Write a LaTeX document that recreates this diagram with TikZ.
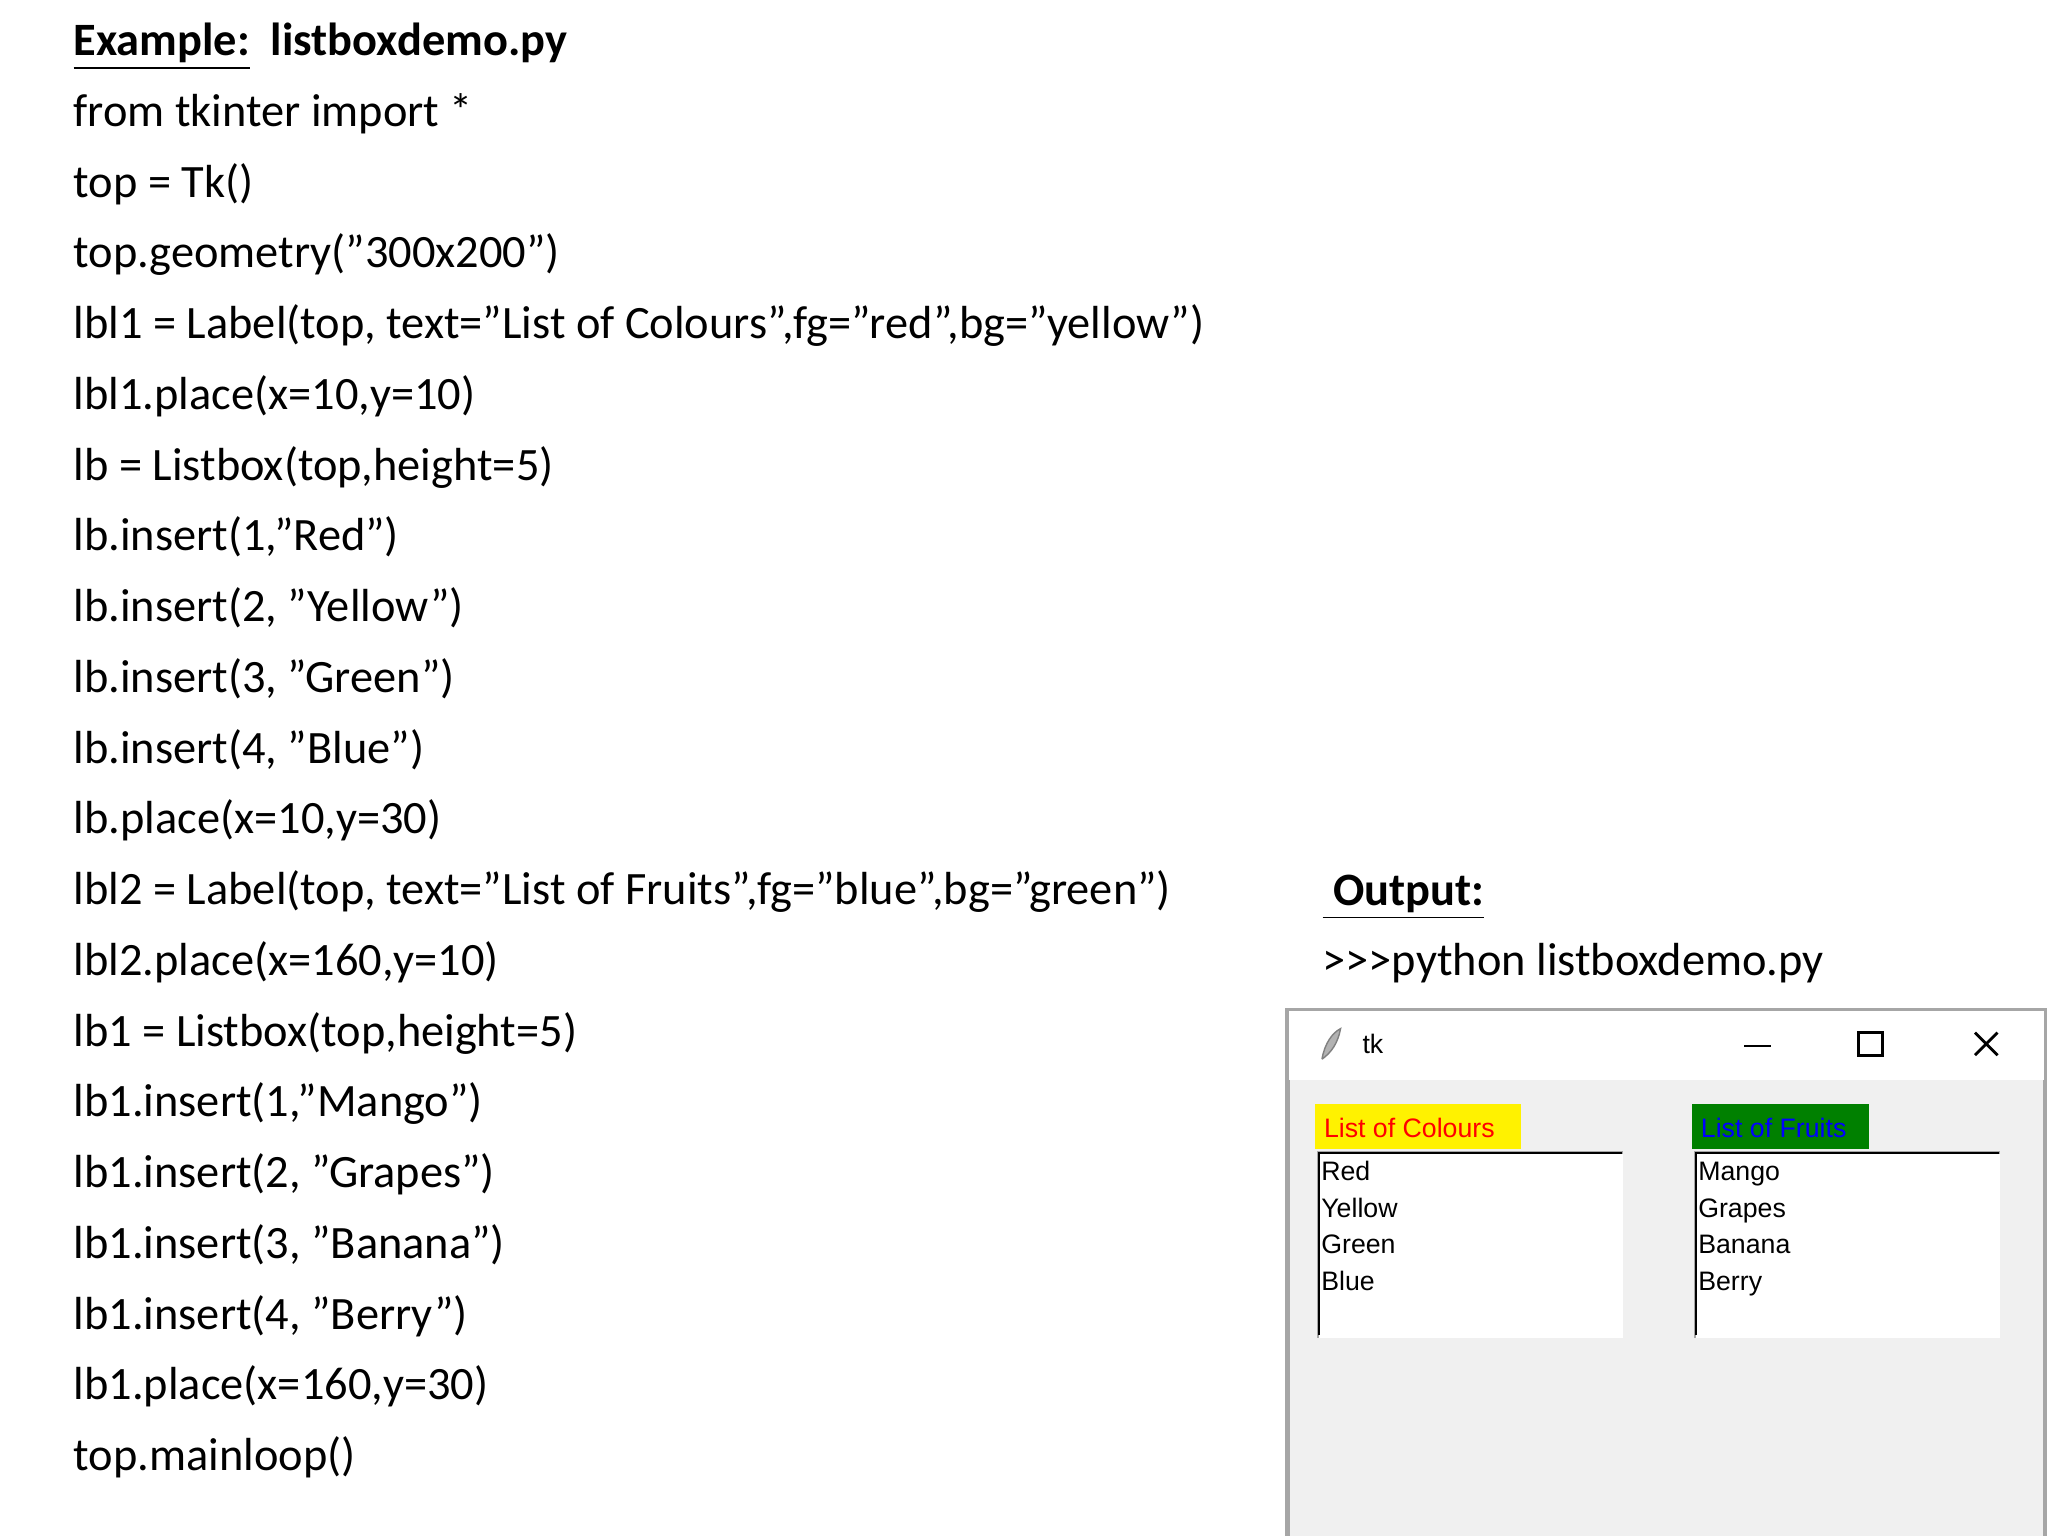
\documentclass[tikz,border=0pt]{standalone}
\usepackage{fontspec}
\setmainfont{Carlito}
\newfontfamily\tkf{Liberation Sans}
\begin{document}
\begin{tikzpicture}[x=0.01327cm,y=-0.01327cm,
  code/.style={anchor=base west,inner sep=0pt,font=\fontsize{13.2pt}{15pt}\selectfont},
  tk/.style={anchor=base west,inner sep=0pt,font=\tkf\fontsize{7.6pt}{9pt}\selectfont},
  lbox/.style={fill=white,draw=none}]
\useasboundingbox (0,0) rectangle (1543,1157);
\node[code] (t0) at (55,42) {\textbf{\underline{Example:}\ \ listboxdemo.py}};
\foreach \i/\s in {1/{from tkinter import *},2/{top = Tk()},3/{top.geometry("300x200")},
4/{lbl1 = Label(top, text="List of Colours",fg="red",bg="yellow")},5/{lbl1.place(x=10,y=10)},
6/{lb = Listbox(top,height=5)},7/{lb.insert(1,"Red")},8/{lb.insert(2, "Yellow")},
9/{lb.insert(3, "Green")},10/{lb.insert(4, "Blue")},11/{lb.place(x=10,y=30)},
12/{lbl2 = Label(top, text="List of Fruits",fg="blue",bg="green")},13/{lbl2.place(x=160,y=10)},
14/{lb1 = Listbox(top,height=5)},15/{lb1.insert(1,"Mango")},16/{lb1.insert(2, "Grapes")},
17/{lb1.insert(3, "Banana")},18/{lb1.insert(4, "Berry")},19/{lb1.place(x=160,y=30)},20/{top.mainloop()}}
  \node[code] (c\i) at (55,42+53.3*\i) {\s};
\node[code] (out) at (996,682) {\textbf{\underline{\ Output:}}};
\node[code] (cmd) at (996,735) {>{}>{}>python listboxdemo.py};
% window
\draw[fill={rgb,255:red,240;green,240;blue,240},draw=gray!70,line width=1.2pt] (970,761) rectangle (1541,1161);
\fill[white] (971,762) rectangle (1540,814);
\node[tk] (ttl) at (1026,794) {tk};
\draw[line width=0.8pt] (1314,788) -- (1334,788);
\draw[line width=0.8pt] (1400,778) rectangle (1418,795);
\draw[line width=0.8pt] (1488,778) -- (1505,795) (1505,778) -- (1488,795);
\draw[fill=gray!60,draw=gray] (996,798) .. controls (998,786) and (1004,778) .. (1010,775) .. controls (1008,786) and (1003,793) .. (996,798);
% labels
\fill[yellow] (991,832) rectangle (1146,866);
\node[tk,text=red] (l1) at (997,857) {List of Colours};
\fill[green!50!black] (1275,832) rectangle (1408,866);
\node[tk,text=blue] (l2) at (1281,857) {List of Fruits};
\foreach \x/\n in {993/a,1277/b}{
  \fill[white] (\x,868) rectangle (\x+230,1008);
  \draw[gray!70,line width=0.8pt] (\x,1008) -- (\x,868) -- (\x+230,868);
  \draw[black,line width=0.6pt] (\x+1,1006) -- (\x+1,869) -- (\x+229,869);
}
\foreach \s [count=\i] in {Red,Yellow,Green,Blue}
  \node[tk] (r\i) at (995,862+27.5*\i) {\s};
\foreach \s [count=\i] in {Mango,Grapes,Banana,Berry}
  \node[tk] (f\i) at (1279,862+27.5*\i) {\s};
\end{tikzpicture}
\end{document}
